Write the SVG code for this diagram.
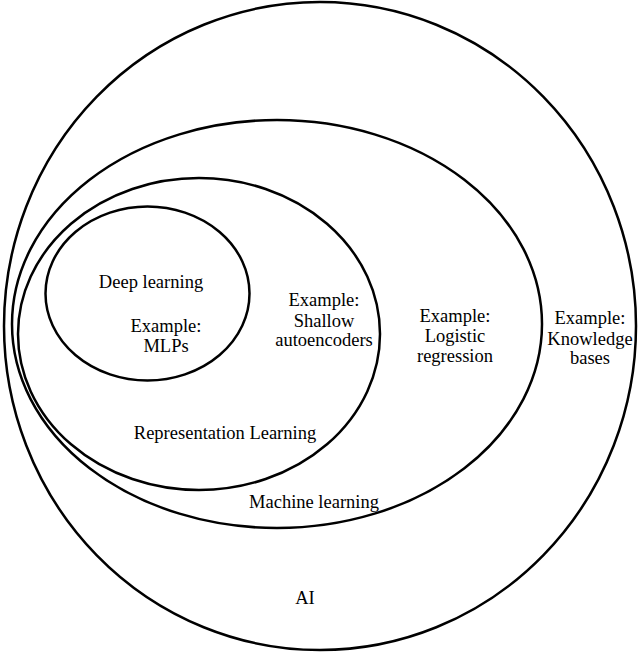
<svg xmlns="http://www.w3.org/2000/svg" width="640" height="653" viewBox="0 0 640 653">
<style>
.s{fill:none;stroke:#000;stroke-width:2.5}
text{font-family:"Liberation Serif","DejaVu Serif",serif;font-size:18.5px;text-anchor:middle;fill:#000}
</style>
<rect width="640" height="653" fill="#fff"/>
<g id="ai"><ellipse class="s" cx="320" cy="326" rx="316" ry="324"/><text x="305" y="604">AI</text>
<text x="590" y="324">Example:</text><text x="590" y="345">Knowledge</text><text x="590" y="364">bases</text></g>
<g id="ml"><ellipse class="s" cx="277" cy="324" rx="265" ry="204"/><text x="314" y="508">Machine learning</text>
<text x="455" y="322">Example:</text><text x="455" y="342">Logistic</text><text x="455" y="362">regression</text></g>
<g id="rl"><ellipse class="s" cx="199" cy="334" rx="181" ry="156"/><text x="225" y="439">Representation Learning</text>
<text x="324" y="306">Example:</text><text x="324" y="327">Shallow</text><text x="324" y="346">autoencoders</text></g>
<g id="dl"><ellipse class="s" cx="147.5" cy="293.5" rx="102" ry="87"/><text x="151" y="288">Deep learning</text>
<text x="166" y="332">Example:</text><text x="166" y="352">MLPs</text></g>
<g id="connectors"/>
</svg>
